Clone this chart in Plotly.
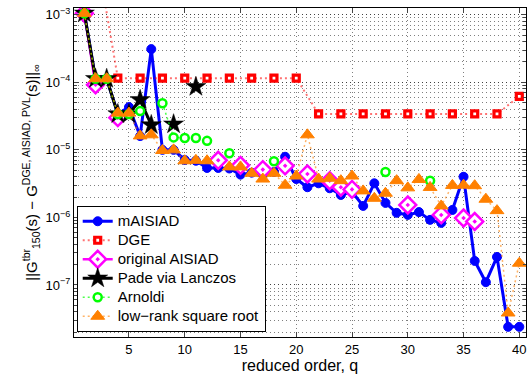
import plotly.graph_objects as go

N = None
q = list(range(1, 41))

# mAISIAD
m_aisiad = [1.05e-3, 1.13e-4, 1.13e-4, 3.4e-5, 4.3e-5, 1.6e-5, 3.1e-4, 1.0e-5, 1.0e-5, 7.1e-6,
            6.9e-6, 5.4e-6, 5.4e-6, 5.3e-6, 4.3e-6, 4.6e-6, 4.3e-6, 4.7e-6, 7.9e-6, 3.7e-6,
            2.8e-6, 3.2e-6, 2.7e-6, 2.15e-6, 2.4e-6, 1.48e-6, 3.2e-6, 1.64e-6, 1.17e-6, 1.09e-6,
            1.2e-6, 9.2e-7, 8.3e-7, 1.29e-6, 4.0e-6, 2.27e-7, 1.1e-7, 2.6e-7, 2.4e-8, 2.4e-8]

# DGE (even orders)
q_dge = list(range(2, 41, 2))
dge = [1e-2, 1.15e-4, 1.15e-4, 1.15e-4, 1.15e-4, 1.15e-4, 1.15e-4, 1.15e-4, 1.15e-4, 1.15e-4,
       3.4e-5, 3.4e-5, 3.4e-5, 3.4e-5, 3.4e-5, 3.4e-5, 3.4e-5, 3.4e-5, 3.4e-5, 6.2e-5]

# original AISIAD
q_orig = list(range(1, 37))
orig_aisiad = [1.05e-3, 9.2e-5, N, 3.0e-5, N, N, N, N, N, N,
               N, N, 7.0e-6, N, 5.9e-6, N, 5.1e-6, N, 5.8e-6, N,
               4.4e-6, N, 3.5e-6, 2.8e-6, 2.6e-6, N, N, N, N, 1.53e-6,
               N, N, 1.09e-6, N, 9.8e-7, 8.7e-7]

# Pade via Lanczos
q_pvl = list(range(1, 12))
pvl = [1.05e-3, 1.13e-4, 1.13e-4, 3.4e-5, 3.4e-5, 5.5e-5, 2.34e-5, N, 2.4e-5, N, 8.6e-5]

# Arnoldi
q_arn = list(range(1, 33))
arnoldi = [1.05e-3, 1.13e-4, 1.13e-4, 3.4e-5, 3.4e-5, 3.75e-5, N, 4.9e-5, 1.53e-5, 1.5e-5,
           1.5e-5, 1.36e-5, N, 8.9e-6, N, N, N, 6.8e-6, N, N,
           N, N, N, N, N, N, N, 4.7e-6, N, N,
           N, 3.5e-6]

# low-rank square root
lrsr = [1.05e-3, 1.13e-4, 1.13e-4, 3.5e-5, 3.5e-5, 1.61e-5, 1.67e-5, 9.8e-6, 1.0e-5, 6.9e-6,
        7.0e-6, 6.9e-6, N, 5.6e-6, 5.6e-6, 4.5e-6, 3.7e-6, 4.5e-6, 3.0e-6, 4.1e-6,
        1.67e-5, 3.7e-6, 3.8e-6, 3.5e-6, 4.1e-6, 2.47e-6, 1.92e-6, 2.28e-6, 3.5e-6, 2.74e-6,
        3.65e-6, 2.78e-6, 1.48e-6, 2.98e-6, 3.0e-6, 2.95e-6, 1.86e-6, 1.26e-6, 3.85e-8, 2.1e-7]

series_names = ["mAISIAD", "DGE", "original AISIAD", "Pade via Lanczos", "Arnoldi", "low−rank square root"]

x_ticks = [5, 10, 15, 20, 25, 30, 35, 40]
y_ticks = [1e-7, 1e-6, 1e-5, 1e-4, 1e-3]
y_ticktext = ["10<sup>−7</sup>", "10<sup>−6</sup>", "10<sup>−5</sup>", "10<sup>−4</sup>", "10<sup>−3</sup>"]

FONT = "Liberation Sans, Arial, Helvetica, sans-serif"


def lname(s):
    return '<span style="font-size:15px">' + s + '</span>'


fig = go.Figure()
fig.add_trace(go.Scatter(
    x=q, y=m_aisiad, name=lname(series_names[0]), mode="lines+markers",
    line=dict(color="rgb(0,0,255)", width=3),
    marker=dict(symbol="circle", size=9, color="rgb(0,0,255)", line=dict(color="rgb(0,0,255)", width=1))))
fig.add_trace(go.Scatter(
    x=q_dge, y=dge, name=lname(series_names[1]), mode="lines+markers",
    line=dict(color="rgba(255,0,0,0.55)", width=2, dash="2px,3px"),
    marker=dict(symbol="square", size=6, color="white", line=dict(color="rgb(255,0,0)", width=3.2))))
fig.add_trace(go.Scatter(
    x=q_orig, y=orig_aisiad, name=lname(series_names[2]), mode="lines+markers", connectgaps=False,
    line=dict(color="rgb(255,0,255)", width=2.5),
    marker=dict(symbol="diamond-dot", size=13, color="white", line=dict(color="rgb(255,0,255)", width=2.5))))
fig.add_trace(go.Scatter(
    x=q_pvl, y=pvl, name=lname(series_names[3]), mode="lines+markers", connectgaps=False,
    line=dict(color="black", width=3),
    marker=dict(symbol="star", size=15, color="black", line=dict(color="black", width=0.5))))
fig.add_trace(go.Scatter(
    x=q_arn, y=arnoldi, name=lname(series_names[4]), mode="lines+markers", connectgaps=False,
    line=dict(color="rgba(0,255,0,0.7)", width=1.5, dash="2px,3px"),
    marker=dict(symbol="circle", size=8, color="white", line=dict(color="rgb(0,255,0)", width=2.5))))
fig.add_trace(go.Scatter(
    x=q, y=lrsr, name=lname(series_names[5]), mode="lines+markers", connectgaps=False,
    line=dict(color="rgba(255,128,0,0.6)", width=1.5, dash="2px,3px"),
    marker=dict(symbol="triangle-up", size=12, color="rgb(255,128,0)", line=dict(color="rgb(255,128,0)", width=1))))

grid_col = "rgba(0,0,0,0.5)"
fig.update_layout(
    width=527, height=377, autosize=False,
    margin=dict(l=74, r=1, t=8, b=40),
    paper_bgcolor="white", plot_bgcolor="white",
    font=dict(family=FONT, size=13, color="black"),
    showlegend=True,
    legend=dict(x=0.006, y=0.016, xanchor="left", yanchor="bottom",
                bgcolor="white", bordercolor="black", borderwidth=1,
                font=dict(family=FONT, size=12, color="black"),
                tracegroupgap=0),
    xaxis=dict(range=[0.07, 40.6], tickvals=x_ticks, ticks="inside", ticklen=5,
               showline=True, linecolor="black", linewidth=1, mirror="allticks",
               showgrid=True, gridcolor=grid_col, griddash="1px,3px", gridwidth=1,
               zeroline=False, tickfont=dict(size=13),
               title=dict(text="reduced order, q", font=dict(size=16), standoff=4)),
    yaxis=dict(type="log", range=[-7.77, -2.9], tickvals=y_ticks, ticktext=y_ticktext,
               ticks="inside", ticklen=5,
               showline=True, linecolor="black", linewidth=1, mirror="allticks",
               showgrid=True, gridcolor=grid_col, griddash="1px,3px", gridwidth=1,
               minor=dict(dtick="D1", showgrid=True, gridcolor=grid_col, griddash="1px,3px",
                          gridwidth=1, ticks="inside", ticklen=3),
               zeroline=False, tickfont=dict(size=13),
               title=dict(text="||G<sup>tbr</sup><sub>150</sub>(s) − G<sup>DGE, AISIAD, PVL</sup>(s)||<sub>∞</sub>",
                          font=dict(size=15), standoff=4)),
)

fig.write_html("out.html", config={"displayModeBar": False, "staticPlot": True},
               post_script="document.body.style.margin='0';document.body.style.padding='0';document.body.style.overflow='hidden';")
